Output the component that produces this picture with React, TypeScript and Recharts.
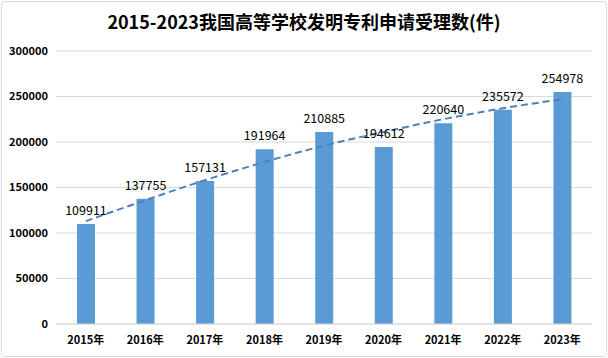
import React from "react";
import {
  ComposedChart,
  Bar,
  Line,
  XAxis,
  YAxis,
  CartesianGrid,
  LabelList,
} from "recharts";

const years = ["2015年", "2016年", "2017年", "2018年", "2019年", "2020年", "2021年", "2022年", "2023年"];
const applications = [109911, 137755, 157131, 191964, 210885, 194612, 220640, 235572, 254978];
// dashed trend line
const trend = [113000, 136000, 158000, 178000, 196000, 211000, 225000, 237000, 247000];
const yTicks = [0, 50000, 100000, 150000, 200000, 250000, 300000];

const FONT = '"Noto Sans CJK SC", "Noto Sans", sans-serif';

export default function App() {
  const chartData = years.map((y, i) => ({
    year: y,
    value: applications[i],
    trend: trend[i],
  }));

  return (
    <div
      style={{
        position: "absolute",
        left: 0,
        top: 0,
        width: 608,
        height: 358,
        background: "#fff",
        fontFamily: FONT,
      }}
    >
      <div
        style={{
          position: "absolute",
          left: 1,
          top: 1,
          width: 604,
          height: 354,
          border: "1px solid #d9d9d9",
          borderRadius: 4,
        }}
      />
      <div
        style={{
          position: "absolute",
          left: 0,
          top: 8,
          width: 608,
          textAlign: "center",
          fontSize: 18,
          fontWeight: 700,
          color: "#000",
        }}
      >
        2015-2023我国高等学校发明专利申请受理数(件)
      </div>
      <ComposedChart
        width={608}
        height={358}
        data={chartData}
        margin={{ top: 51, right: 16, bottom: 0, left: 0 }}
        style={{ position: "absolute", left: 0, top: 0 }}
      >
        <CartesianGrid vertical={false} stroke="#d9d9d9" />
        <XAxis
          dataKey="year"
          height={34}
          tickLine={false}
          axisLine={{ stroke: "#d9d9d9" }}
          tick={{ fill: "#000", fontSize: 11, fontWeight: 700, fontFamily: FONT }}
          tickMargin={6}
        />
        <YAxis
          width={56}
          domain={[0, 300000]}
          ticks={yTicks}
          axisLine={false}
          tickLine={false}
          tickMargin={2}
          tick={{ fill: "#000", fontSize: 11, fontWeight: 700, fontFamily: FONT }}
        />
        <Bar dataKey="value" fill="#5b9bd5" barSize={18} isAnimationActive={false}>
          <LabelList
            dataKey="value"
            position="top"
            offset={9}
            style={{ fill: "#000", fontSize: 12.5, fontFamily: FONT }}
          />
        </Bar>
        <Line
          dataKey="trend"
          type="monotone"
          stroke="#5080bb"
          strokeWidth={2}
          strokeDasharray="7 4"
          dot={false}
          isAnimationActive={false}
        />
      </ComposedChart>
    </div>
  );
}
